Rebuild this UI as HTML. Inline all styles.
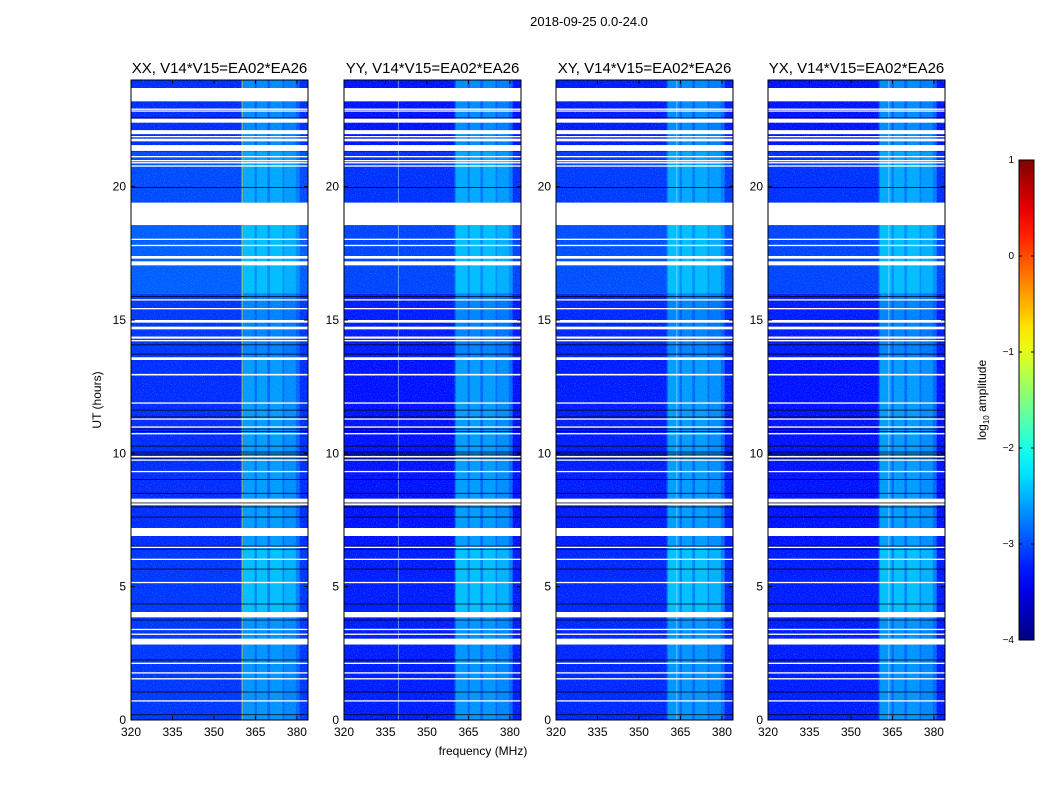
<!DOCTYPE html>
<html><head><meta charset="utf-8"><style>
html,body{margin:0;padding:0;background:#fff;width:1050px;height:800px;overflow:hidden}
svg{display:block;font-family:"Liberation Sans",sans-serif}
</style></head><body>
<svg id="fig" width="1050" height="800">
<defs>
<filter id="noise" x="0" y="0" width="100%" height="100%">
<feTurbulence type="fractalNoise" baseFrequency="0.9" numOctaves="2" seed="3"/>
<feColorMatrix type="matrix" values="0 0 0 0 0.1  0 0 0 0 0.6  0 0 0 0 1  0 0 0 2.2 -1.1"/>
</filter>
</defs>
<text x="589" y="26" font-size="13" text-anchor="middle">2018-09-25 0.0-24.0</text>
<text x="483" y="755" font-size="12" text-anchor="middle">frequency (MHz)</text>
<text x="101" y="400" font-size="12" text-anchor="middle" transform="rotate(-90 101 400)">UT (hours)</text>
<g id="panels"></g>
<g id="cbar"></g>
</svg>
<script>
const panelTitles = ["XX, V14*V15=EA02*EA26","YY, V14*V15=EA02*EA26","XY, V14*V15=EA02*EA26","YX, V14*V15=EA02*EA26"];
const panelLefts = [131,344,556,768];
const xTicks = [320,335,350,365,380];
const yTicks = [0,5,10,15,20];
const cbarTicks = [1,0,-1,-2,-3,-4];
const segStart = [0,4,6.5,13.6,16,19.4,21.3];
const segEnd = [4,6.5,13.6,16,19.4,21.3,24];
const segBg = [-3.2,-3.2,-3.25,-3.2,-3.0,-3.1,-3.25];
const segBand = [-2.55,-2.3,-2.5,-2.65,-2.35,-2.45,-2.6];
const panelBgOffset = [0.08,-0.05,0,-0.05];
const bandBaseLo = 360;
const bandBaseHi = 381;
const bandLo = [360.5,365.5,370.3,375.4];
const bandHi = [364.7,369.3,374.8,379.6];
const vLineFreq = [360,339.5,363.5,363.5];
const vLineVal = [-1.0,-2.0,-2.0,-2.0];
const whiteStart = [23.2,22.88,22.82,22.4,21.97,21.86,21.7,21.34,21.1,20.95,20.87,20.75,18.56,18.0,17.77,17.3,17.05,15.73,15.4,14.9,14.65,14.3,14.2,13.5,12.92,11.87,11.27,10.97,10.72,9.84,9.73,9.3,8.05,6.9,6.45,6.0,5.13,3.85,3.38,3.2,2.83,2.1,1.75,1.52,0.7];
const whiteEnd = [23.7,22.93,22.86,22.55,22.12,21.9,21.8,21.56,21.15,21.0,20.92,20.8,19.4,18.05,17.82,17.4,17.2,15.78,15.45,15.0,14.75,14.38,14.25,13.6,12.98,11.91,11.31,11.01,10.76,9.9,9.77,9.34,8.3,7.2,6.5,6.05,5.18,4.05,3.42,3.24,3.05,2.15,1.79,1.57,0.74];
const blackHour = [22.58,19.97,15.88,14.07,13.72,11.62,11.36,10.91,10.82,10.27,10.05,9.97,9.82,9.02,8.5,8.14,7.99,7.61,6.52,6.4,5.66,4.35,3.75,2.25,1.05,0.2];

const NS="http://www.w3.org/2000/svg";
const xMin=320,xMax=384,yMin=0,yMax=24,pw=177,yTop=80,yBot=720;
function jet(v){let t=(v+4)/5;t=Math.max(0,Math.min(1,t));
 const f=x=>Math.max(0,Math.min(1,x));
 const r=f(Math.min(4*t-1.5,-4*t+4.5)),g=f(Math.min(4*t-0.5,-4*t+3.5)),b=f(Math.min(4*t+0.5,-4*t+2.5));
 return `rgb(${Math.round(r*255)},${Math.round(g*255)},${Math.round(b*255)})`;}
function mk(tag,attrs,parent){const e=document.createElementNS(NS,tag);for(const k in attrs)e.setAttribute(k,attrs[k]);parent.appendChild(e);return e;}
const yS=h=>yBot-(h-yMin)/(yMax-yMin)*(yBot-yTop);
const root=document.getElementById('panels');
panelTitles.forEach((title,p)=>{
 const L=panelLefts[p];const xS=f=>L+(f-xMin)/(xMax-xMin)*pw;
 const g=mk('g',{},root);
 
 
 const cp=mk('clipPath',{id:'cp'+p},g);mk('rect',{x:L,y:yTop,width:pw,height:yBot-yTop},cp);
 const area=mk('g',{'clip-path':`url(#cp${p})`},g);
 for(let s=0;s<segStart.length;s++){
  const y0=yS(segEnd[s]),hh=yS(segStart[s])-yS(segEnd[s]);
  const r=mk('rect',{x:L,y:y0,width:pw,height:hh,fill:jet(segBg[s]+panelBgOffset[p])},area);
  
  
  const bb=mk('rect',{x:xS(bandBaseLo),y:y0,width:xS(bandBaseHi)-xS(bandBaseLo),height:hh,fill:jet((segBg[s]+segBand[s])/2)},area);
  
  
  for(let b=0;b<bandLo.length;b++){
   const br=mk('rect',{x:xS(bandLo[b]),y:y0,width:xS(bandHi[b])-xS(bandLo[b]),height:hh,fill:jet(segBand[s]-(b===3?0.1:0)),opacity:0.7},area);
   
   
  }
 }
 mk('rect',{x:L,y:yTop,width:pw,height:yBot-yTop,filter:'url(#noise)',opacity:0.45},area);
 const vl=mk('rect',{x:xS(vLineFreq[p]),y:yTop,width:1,height:yBot-yTop,fill:p===0?jet(vLineVal[p]):'#cfe8ff',opacity:p===0?0.7:0.5},area);
 
 
 for(let i=0;i<whiteStart.length;i++){
  const w=mk('rect',{x:L,y:yS(whiteEnd[i]),width:pw,height:Math.max(1.3,yS(whiteStart[i])-yS(whiteEnd[i])),fill:'#fff'},area);
  
  
 }
 for(let i=0;i<blackHour.length;i++){
  const k=mk('rect',{x:L,y:yS(blackHour[i])-0.5,width:pw,height:1,fill:'#000',opacity:0.75},area);
  
  
 }
 mk('rect',{x:L,y:yTop,width:pw,height:yBot-yTop,fill:'none',stroke:'#000','stroke-width':1},g);
 const t=mk('text',{x:L+pw/2,y:73,'font-size':15,'text-anchor':'middle'},g);t.textContent=title;
 
 
 xTicks.forEach(v=>{const x=xS(v);mk('line',{x1:x,x2:x,y1:yBot,y2:yBot-4,stroke:'#000'},g);mk('line',{x1:x,x2:x,y1:yTop,y2:yTop+4,stroke:'#000'},g);
  const tx=mk('text',{x:x,y:yBot+16,'font-size':12,'text-anchor':'middle'},g);tx.textContent=v;
  
  });
 yTicks.forEach(v=>{const y=yS(v);mk('line',{x1:L,x2:L+4,y1:y,y2:y,stroke:'#000'},g);mk('line',{x1:L+pw,x2:L+pw-4,y1:y,y2:y,stroke:'#000'},g);
  const ty=mk('text',{x:L-5,y:y+4,'font-size':12,'text-anchor':'end'},g);ty.textContent=v;
  
  });
});
const cb=document.getElementById('cbar');
const cx=1019,cw=15,ct=160,cbm=640;
const grad=mk('linearGradient',{id:'jetg',x1:0,y1:1,x2:0,y2:0},mk('defs',{},cb));
for(let i=0;i<=20;i++){mk('stop',{offset:i/20,'stop-color':jet(-4+5*i/20)},grad);}
const cr=mk('rect',{x:cx,y:ct,width:cw,height:cbm-ct,fill:'url(#jetg)',stroke:'#000'},cb);


cbarTicks.forEach(v=>{const y=cbm-(v+4)/5*(cbm-ct);
 mk('line',{x1:cx,x2:cx+3,y1:y,y2:y,stroke:'#000'},cb);mk('line',{x1:cx+cw,x2:cx+cw-3,y1:y,y2:y,stroke:'#000'},cb);
 const t=mk('text',{x:cx-5,y:y+3,'font-size':10,'text-anchor':'end'},cb);t.textContent=v<0?'\u2212'+(-v):v;
 
 });
const cl=mk('text',{x:986,y:400,'font-size':12,'text-anchor':'middle',transform:'rotate(-90 986 400)'},cb);
cl.innerHTML='log<tspan font-size="8" dy="3">10</tspan><tspan dy="-3"> amplitude</tspan>';


</script>
</body></html>
